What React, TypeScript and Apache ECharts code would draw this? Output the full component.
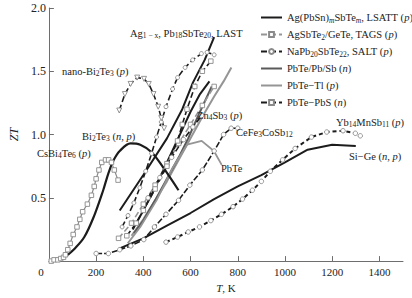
import React, { useEffect, useRef } from "react";
import * as echarts from "echarts";

const FONT = "'Liberation Serif', 'DejaVu Serif', serif";

const xTicks = [0, 200, 400, 600, 800, 1000, 1200, 1400];
const yTicks = [0, 0.5, 1.0, 1.5, 2.0];

// Legend series (T in K, ZT)
const lsattData = [[355, 0.25], [400, 0.4], [450, 0.58], [500, 0.78], [550, 0.98], [600, 1.18], [640, 1.32], [680, 1.42]];
const tagsData = [[295, 0.18], [350, 0.3], [400, 0.45], [450, 0.6], [500, 0.77], [550, 0.93], [600, 1.08], [650, 1.23], [700, 1.38]];
const saltData = [[310, 0.27], [335, 0.36], [360, 0.46], [385, 0.58], [410, 0.71], [435, 0.85], [456, 0.98], [476, 1.1], [496, 1.22], [524, 1.36], [545, 1.45], [577, 1.53], [609, 1.59], [646, 1.64], [670, 1.65], [700, 1.63]];
const pbtePbSbData = [[360, 0.22], [400, 0.32], [450, 0.48], [500, 0.65], [550, 0.82], [590, 0.97], [640, 1.18], [690, 1.38]];
const pbteTlData = [[350, 0.2], [400, 0.33], [450, 0.48], [500, 0.63], [550, 0.8], [600, 0.97], [650, 1.14], [700, 1.3], [740, 1.42], [773, 1.53]];
const pbtePbSData = [[330, 0.2], [370, 0.3], [400, 0.4], [450, 0.57], [500, 0.75], [545, 0.95], [565, 1.08], [585, 1.2], [618, 1.38], [650, 1.5], [686, 1.58]];

// Labelled series
const lastData = [[300, 0.4], [400, 0.68], [500, 0.97], [565, 1.2], [610, 1.41], [660, 1.59], [700, 1.77]];
const nanoBi2Te3Data = [[298, 1.19], [322, 1.32], [346, 1.4], [374, 1.45], [403, 1.44], [423, 1.4], [443, 1.32], [463, 1.22], [476, 1.13], [488, 1.05]];
const bi2Te3Data = [[80, 0.05], [110, 0.1], [150, 0.19], [190, 0.35], [230, 0.56], [253, 0.7], [275, 0.8], [300, 0.87], [346, 0.93], [387, 0.92], [435, 0.86], [484, 0.74], [549, 0.56]];
const csBi4Te6Data = [[10, 0], [22, 0.01], [38, 0.01], [50, 0.02], [62, 0.03], [70, 0.05], [80, 0.09], [90, 0.14], [103, 0.21], [119, 0.27], [131, 0.33], [143, 0.39], [163, 0.45], [180, 0.52], [192, 0.59], [200, 0.65], [212, 0.72], [224, 0.78], [240, 0.8], [253, 0.8], [265, 0.78], [277, 0.72], [293, 0.64]];
const zn4Sb3Data = [[420, 0.5], [470, 0.66], [520, 0.82], [570, 0.96], [610, 1.06], [647, 1.15]];
const ceFe3CoSb12Data = [[200, 0.06], [252, 0.06], [300, 0.09], [347, 0.12], [402, 0.17], [447, 0.27], [496, 0.37], [549, 0.48], [597, 0.6], [650, 0.72], [700, 0.87], [740, 1.0], [772, 1.05], [800, 1.05]];
const pbteData = [[334, 0.14], [387, 0.27], [456, 0.48], [525, 0.74], [585, 0.92], [647, 0.95], [699, 0.87], [732, 0.76]];
const yb14MnSb11Data = [[496, 0.15], [545, 0.19], [590, 0.23], [638, 0.27], [686, 0.32], [731, 0.37], [780, 0.43], [820, 0.49], [862, 0.56], [900, 0.63], [938, 0.71], [990, 0.8], [1043, 0.89], [1112, 0.98], [1177, 1.02], [1246, 1.03], [1298, 1.01], [1319, 0.99]];
const siGeData = [[300, 0.1], [400, 0.18], [500, 0.28], [600, 0.38], [700, 0.49], [800, 0.59], [900, 0.68], [1000, 0.78], [1096, 0.88], [1200, 0.92], [1300, 0.91]];

const legendNames = [
  "Ag(PbSn)mSbTem, LSATT (p)",
  "AgSbTe2/GeTe, TAGS (p)",
  "NaPb20SbTe22, SALT (p)",
  "PbTe/Pb/Sb (n)",
  "PbTe-Tl (p)",
  "PbTe-PbS (n)",
];
const legendRichTexts = [
  "Ag(PbSn){si|m}SbTe{si|m}, LSATT ({i|p})",
  "AgSbTe{s|2}/GeTe, TAGS ({i|p})",
  "NaPb{s|20}SbTe{s|22}, SALT ({i|p})",
  "PbTe/Pb/Sb ({i|n})",
  "PbTe\u2212Tl ({i|p})",
  "PbTe\u2212PbS ({i|n})",
];
const legendHasMarker = [false, true, true, false, false, true];

const annotationTexts = [
  "Ag{s|1 \u2212 x}, Pb{s|18}SbTe{s|20}, LAST",
  "nano-Bi{s|2}Te{s|3} ({i|p})",
  "Bi{s|2}Te{s|3} ({i|n}, {i|p})",
  "CsBi{s|4}Te{s|6} ({i|p})",
  "Zn{s|4}Sb{s|3} ({i|p})",
  "CeFe{s|3}CoSb{s|12}",
  "PbTe",
  "Yb{s|14}MnSb{s|11} ({i|p})",
  "Si\u2212Ge ({i|n}, {i|p})",
];
const annotationPos = [
  [130, 33], [62, 71], [82, 136], [37, 153], [197, 115], [236, 132], [221, 168], [336, 122], [349, 156],
];

const rich = {
  s: { fontSize: 7.5, lineHeight: 7.5, verticalAlign: "bottom", fontFamily: FONT, fill: "#222", color: "#222" },
  si: { fontSize: 7.5, lineHeight: 7.5, verticalAlign: "bottom", fontStyle: "italic", fontFamily: FONT, fill: "#222", color: "#222" },
  i: { fontStyle: "italic", fontSize: 10.5, fontFamily: FONT, fill: "#222", color: "#222" },
};

const BLACK = "#1c1c1c";
const GREY = "#959595";
const DGREY = "#5a5a5a";

function solid(name: string, data: number[][], color: string, width = 2, smooth: number | boolean = false) {
  return {
    name, type: "line", data, symbol: "none", smooth,
    lineStyle: { color, width, type: "solid" },
    itemStyle: { color },
    z: 3,
  };
}
function marked(name: string, data: number[][], color: string, symbol: string, opts: any = {}) {
  return {
    name, type: "line", data, symbol, symbolSize: opts.size ?? 4.5, symbolRotate: opts.rotate ?? 0,
    showSymbol: true,
    lineStyle: { color, width: opts.width ?? 1.6, type: opts.dash ?? [6, 3] },
    itemStyle: { color: "#fff", borderColor: opts.mColor ?? "#8a8a8a", borderWidth: 0.9 },
    z: 4,
  };
}

export default function App() {
  const ref = useRef<HTMLDivElement>(null);
  useEffect(() => {
    if (!ref.current) return;
    const chart = echarts.init(ref.current, null, { renderer: "svg" });
    const legendMap: Record<string, string> = {};
    legendNames.forEach((n, i) => (legendMap[n] = legendRichTexts[i]));

    const series: any[] = [
      solid(legendNames[4], pbteTlData, GREY, 2),
      solid(legendNames[3], pbtePbSbData, DGREY, 2),
      solid("PbTe", pbteData, GREY, 1.8),
      marked(legendNames[1], tagsData, GREY, "rect", { size: 4.5, dash: [6, 3], width: 1.6 }),
      solid(legendNames[0], lsattData, BLACK, 2),
      marked(legendNames[2], saltData, BLACK, "circle", { size: 4 }),
      marked(legendNames[5], pbtePbSData, BLACK, "rect", { size: 4.5 }),
      solid("LAST", lastData, BLACK, 2),
      marked("nano-Bi2Te3", nanoBi2Te3Data, BLACK, "triangle", { size: 5, rotate: 180 }),
      solid("Bi2Te3", bi2Te3Data, BLACK, 2.2, 0.35),
      marked("CsBi4Te6", csBi4Te6Data, "#8a8a8a", "rect", { size: 4.5, dash: "solid", width: 1.2 }),
      marked("Zn4Sb3", zn4Sb3Data, BLACK, "circle", { size: 4.5 }),
      marked("CeFe3CoSb12", ceFe3CoSb12Data, BLACK, "circle", { size: 4.5, dash: [6, 2] }),
      marked("Yb14MnSb11", yb14MnSb11Data, BLACK, "circle", { size: 4.5, dash: [4, 3], width: 2 }),
      solid("Si-Ge", siGeData, BLACK, 2),
    ];

    const graphic = annotationTexts.map((t, i) => ({
      type: "text",
      x: annotationPos[i][0],
      y: annotationPos[i][1],
      z: 10,
      style: {
        text: t, fontFamily: FONT, fontSize: 10.5, lineHeight: 13, fill: "#222",
        align: "left", verticalAlign: "middle", rich,
      },
    }));

    const legendData = legendNames.map((n, i) =>
      legendHasMarker[i]
        ? { name: n }
        : { name: n, itemStyle: { color: "rgba(0,0,0,0)", borderColor: "rgba(0,0,0,0)", borderWidth: 0, opacity: 0 } }
    );

    chart.setOption({
      animation: false,
      grid: { left: 33, right: 9, top: 8, bottom: 33, containLabel: false },
      xAxis: {
        type: "value", min: 0, max: 1500,
        axisLine: { lineStyle: { color: "#6e6e6e", width: 1 } },
        axisTick: { inside: true, length: 5, customValues: xTicks, lineStyle: { color: "#6e6e6e" } },
        axisLabel: {
          customValues: xTicks, margin: 5, fontSize: 11, fontFamily: FONT, color: "#222",
          formatter: (v: number) => (v === 0 ? "{o|0}" : String(v)),
          rich: { o: { padding: [0, 16, 0, 0], fontSize: 11, fontFamily: FONT, color: "#222" } },
        },
        splitLine: { show: false },
        name: "{i|T}, K", nameLocation: "middle", nameGap: 19,
        nameTextStyle: { fontFamily: FONT, fontSize: 11, color: "#222", rich: { i: { fontStyle: "italic", fontFamily: FONT, fontSize: 11, color: "#222" } } },
      },
      yAxis: {
        type: "value", min: 0, max: 2,
        axisLine: { show: true, lineStyle: { color: "#6e6e6e", width: 1 } },
        axisTick: { show: true, inside: true, length: 5, customValues: yTicks, lineStyle: { color: "#6e6e6e" } },
        axisLabel: {
          customValues: yTicks, margin: 3, fontSize: 12, fontFamily: FONT, color: "#222",
          formatter: (v: number) => (v === 0 ? "" : v.toFixed(1)),
        },
        splitLine: { show: false },
        name: "{i|ZT}", nameLocation: "middle", nameRotate: 90, nameGap: 24,
        nameTextStyle: { fontFamily: FONT, fontSize: 12, color: "#222", rich: { i: { fontStyle: "italic", fontFamily: FONT, fontSize: 12, color: "#222" } } },
      },
      legend: {
        data: legendData, orient: "vertical", left: 255, top: 6,
        itemWidth: 21, itemHeight: 6, itemGap: 4,
        textStyle: { fontFamily: FONT, fontSize: 10.5, lineHeight: 13, color: "#222", rich },
        formatter: (name: string) => legendMap[name] ?? name,
      },
      graphic,
      series,
    });
    return () => chart.dispose();
  }, []);
  return (
    <div style={{ position: "absolute", left: 0, top: 0, width: 412, height: 298, background: "#fff" }}>
      <div ref={ref} style={{ width: 412, height: 298 }} />
    </div>
  );
}
